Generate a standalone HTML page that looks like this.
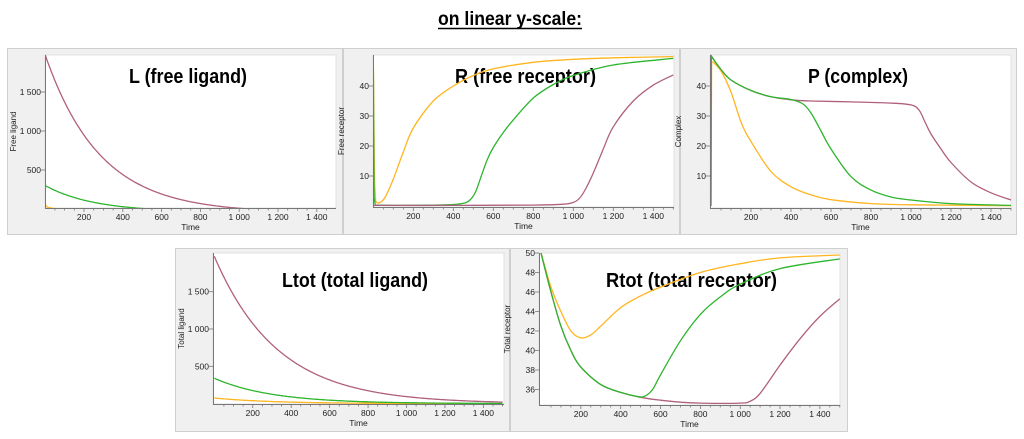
<!DOCTYPE html>
<html><head><meta charset="utf-8"><style>
html,body{margin:0;padding:0;background:#fff;width:1024px;height:439px;overflow:hidden}
svg{display:block}
</style></head><body>
<svg id="s" width="1024" height="439" xmlns="http://www.w3.org/2000/svg" font-family="Liberation Sans, sans-serif">
<text x="438" y="25" font-size="19" font-weight="bold" textLength="144" lengthAdjust="spacingAndGlyphs">on linear y-scale:</text>
<line x1="438" y1="28.5" x2="582" y2="28.5" stroke="#000" stroke-width="1.5"/>
</svg>
<script>
const S=document.getElementById('s');const NS='http://www.w3.org/2000/svg';
function el(t,a,txt){const e=document.createElementNS(NS,t);for(const k in a)e.setAttribute(k,a[k]);if(txt!==undefined)e.textContent=txt;S.appendChild(e);return e;}
const PU='#b0607f',GR='#2db52d',YE='#ffb520';
function fmt(v){return v>=1000?Math.floor(v/1000)+' '+String(v%1000).padStart(3,'0'):String(v);}
function cr(pts,n){let d='M'+pts[0][0].toFixed(1)+','+pts[0][1].toFixed(1);
for(let i=0;i<pts.length-1;i++){const p1=pts[i],p2=pts[i+1];
 if(i<n){d+='L'+p2[0].toFixed(1)+','+p2[1].toFixed(1);continue;}
 const p0=pts[Math.max(n,i-1)],p3=pts[Math.min(pts.length-1,i+2)];
const c1=[p1[0]+(p2[0]-p0[0])/6,p1[1]+(p2[1]-p0[1])/6],c2=[p2[0]-(p3[0]-p1[0])/6,p2[1]-(p3[1]-p1[1])/6];
d+='C'+c1[0].toFixed(1)+','+c1[1].toFixed(1)+' '+c2[0].toFixed(1)+','+c2[1].toFixed(1)+' '+p2[0].toFixed(1)+','+p2[1].toFixed(1);}return d;}
function fn(f){const a=[];for(let t=0;t<=1500;t+=5)a.push([t,f(t)]);return a;}
const L1={
 pu:fn(t=>Math.max(0,2024*Math.exp(-t/282)-49)),
 gr:[[0,330],[3,290]].concat(fn(t=>Math.max(0,339*Math.exp(-t/250)-39)).slice(2)),
 ye:[[0,70],[4,40],[15,20],[40,8],[80,3],[150,1],[250,0],[1500,0]]};
const P=[
{o:[7,48,336,187],r:[45,55,336,208],t0:45.2,xs:0.194,y0:209,ys:0.078,yt:[500,1000,1500],yl:'Free ligand',
 title:'L (free ligand)',tx:[129,247],tb:83,
 ser:[[L1.ye,YE,99],[L1.gr,GR,99],[L1.pu,PU,99]]},
{o:[343,48,337,187],r:[373,55,674,207],t0:373.3,xs:0.2,y0:206,ys:3,yt:[10,20,30,40],yl:'Free receptor',
 title:'R (free receptor)',tx:[455,596],tb:83,
 ser:[[[[0,50],[6,8],[12,1.5],[20,1],[35,1.2],[60,3],[100,9],[150,18],[200,26],[300,35],[400,40],[500,43.5],[600,45.7],[800,47.9],[1000,48.9],[1200,49.4],[1500,49.8]],YE,3],
 [[[0,50],[4,3],[10,0.3],[100,0.2],[300,0.3],[400,0.5],[450,0.9],[480,1.8],[510,4.5],[540,10],[570,15.5],[600,19.5],[650,24.5],[700,28.7],[800,36],[900,40.5],[1000,43.5],[1200,47],[1500,49.2]],GR,3],
 [[[0,0.2],[400,0.2],[800,0.3],[950,0.6],[1000,1.2],[1030,2.5],[1060,5.5],[1100,11],[1150,19],[1200,26.4],[1300,35],[1400,40.3],[1500,43.7]],PU,0]]},
{o:[680,48,337,187],r:[710,55,1011,208],t0:711,xs:0.2,y0:206,ys:3,yt:[10,20,30,40],yl:'Complex',
 title:'P (complex)',tx:[808,908],tb:83,
 ser:[[[[0,0],[3,48],[10,48],[50,45],[100,38],[150,28],[200,21.5],[300,11.5],[400,6.4],[500,3.7],[600,2.1],[800,0.8],[1000,0.4],[1500,0.1]],YE,2],
 [[[0,50],[50,45.5],[100,42],[200,38.5],[300,36.4],[400,35.4],[500,35],[700,34.7],[900,34.3],[1000,33.7],[1040,32],[1070,28],[1100,24],[1150,19],[1200,14.5],[1300,8],[1400,4.4],[1500,2]],PU,0],
 [[[0,0],[2,50],[50,45.5],[100,42],[200,38.5],[300,36.4],[400,35.5],[460,34],[500,31],[550,25],[600,19],[700,9.8],[800,5.3],[900,3],[1000,2],[1200,0.8],[1500,0.2]],GR,1]]},
{o:[175,248,335,184],r:[213,253,504,404],t0:214.3,xs:0.1922,y0:403.6,ys:0.0746,yt:[500,1000,1500],yl:'Total ligand',
 title:'Ltot (total ligand)',tx:[282,428],tb:287,
 ser:[[fn(t=>75*Math.exp(-t/300)),YE,99],[fn(t=>340*Math.exp(-t/300)),GR,99],[fn(t=>1975*Math.exp(-t/328)),PU,99]]},
{o:[510,248,338,184],r:[539,253,840,405],t0:541,xs:0.1992,y0:253+50*9.75,ys:9.75,yt:[36,38,40,42,44,46,48,50],yl:'Total receptor',
 title:'Rtot (total receptor)',tx:[606,777],tb:287,
 ser:[[[[0,50],[50,46.5],[100,44],[150,42],[200,41.3],[250,41.6],[300,42.5],[400,44.4],[500,45.6],[600,46.5],[800,48],[1000,48.9],[1200,49.5],[1500,49.8]],YE,0],
 [[[0,50],[50,46],[100,42.5],[150,40],[200,38.3],[300,36.5],[400,35.7],[500,35.2],[600,34.9],[700,34.7],[800,34.6],[1000,34.6],[1050,34.8],[1100,35.6],[1200,38.5],[1300,41.2],[1400,43.5],[1500,45.3]],PU,0],
 [[[0,50],[50,46],[100,42.5],[150,40],[200,38.3],[300,36.5],[400,35.7],[480,35.3],[520,35.3],[560,36],[600,37.5],[700,41],[800,43.7],[900,45.5],[1000,46.8],[1200,48.4],[1500,49.4]],GR,0]]}
];
for(const p of P){
 const [ox,oy,ow,oh]=p.o,[x0,y0,x1,y1]=p.r;
 el('rect',{x:ox+0.5,y:oy+0.5,width:ow-1,height:oh-1,fill:'#f0f0f0',stroke:'#cfcfcf'});
 el('rect',{x:x0,y:y0,width:x1-x0,height:y1-y0,fill:'#fff',stroke:'#e2e2e2'});
 el('text',{x:p.tx[0],y:p.tb,'font-size':20,'font-weight':'bold',textLength:p.tx[1]-p.tx[0],lengthAdjust:'spacingAndGlyphs'},p.title);
 const X=t=>p.t0+t*p.xs,Y=v=>p.y0-v*p.ys;
 const clip='c'+x0;
 const cp=el('clipPath',{id:clip});const r=document.createElementNS(NS,'rect');
 r.setAttribute('x',x0);r.setAttribute('y',y0-1);r.setAttribute('width',x1-x0);r.setAttribute('height',y1-y0+1);cp.appendChild(r);
 for(const [pts,c,n] of p.ser){
  const q=pts.map(a=>[X(a[0]),Y(a[1])]);
  el('path',{d:cr(q,n),fill:'none',stroke:c,'stroke-width':1.3,'clip-path':'url(#'+clip+')'});
 }
 el('line',{x1:x0+0.5,y1:y0,x2:x0+0.5,y2:y1,stroke:'#777'});
 el('line',{x1:x0,y1:y1+0.5,x2:x1,y2:y1+0.5,stroke:'#777'});
 for(let t=50;t<=1500;t+=50){const xx=X(t);if(xx>x1)break;el('line',{x1:xx,y1:y1,x2:xx,y2:y1+(t%200==0?4:2.5),stroke:'#777','stroke-width':0.8});
  if(t%200==0)el('text',{x:xx,y:y1+12,'font-size':8.5,'text-anchor':'middle',fill:'#222'},fmt(t));}
 for(const v of p.yt){const yy=Y(v);el('line',{x1:x0-4,y1:yy,x2:x0,y2:yy,stroke:'#777','stroke-width':0.8});
  el('text',{x:x0-4,y:yy+3,'font-size':8.5,'text-anchor':'end',fill:'#222'},fmt(v));}
 el('text',{x:(x0+x1)/2,y:y1+22,'font-size':8.5,'text-anchor':'middle',fill:'#222'},'Time');
 const lx=x0-29,ly=(y0+y1)/2;
 el('text',{x:lx,y:ly,'font-size':8,'text-anchor':'middle',fill:'#222',transform:'rotate(-90 '+lx+' '+ly+')'},p.yl);
}
</script>
</body></html>
